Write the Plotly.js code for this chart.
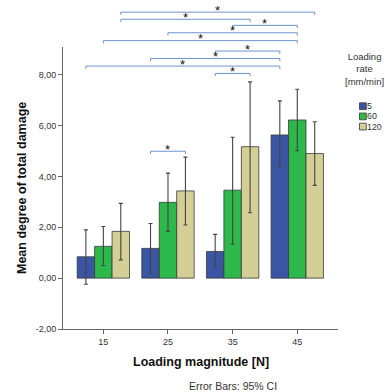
<!DOCTYPE html>
<html>
<head>
<meta charset="utf-8">
<script src="https://cdn.plot.ly/plotly-3.0.1.min.js"></script>
<style>html,body{margin:0;padding:0;background:#fff}#chart{width:385px;height:392px}</style>
</head>
<body>
<div id="chart"></div>
<script>
// ---- data ----
const categories = ['15', '25', '35', '45'];          // loading magnitude [N]
const seriesNames = ['5', '60', '120'];               // loading rate [mm/min]
const mean5   = [0.84, 1.17, 1.05, 5.63];
const mean60  = [1.25, 2.98, 3.46, 6.22];
const mean120 = [1.84, 3.43, 5.17, 4.90];
const ciHigh5   = [1.90, 2.15, 1.72, 6.97];
const ciLow5    = [-0.24, 0.18, 0.42, 4.36];
const ciHigh60  = [2.03, 4.13, 5.54, 7.43];
const ciLow60   = [0.50, 1.84, 1.33, 5.01];
const ciHigh120 = [2.94, 4.76, 7.72, 6.15];
const ciLow120  = [0.72, 2.09, 2.57, 3.65];
const yTickVals = [-2, 0, 2, 4, 6, 8];
const yTickText = ['-2,00', '0,00', '2,00', '4,00', '6,00', '8,00'];
// significance brackets: [group, series] from -> to, and level (y units)
const bracketFrom  = [[0,2],[0,2],[2,1],[1,1],[0,1],[2,0],[1,0],[0,0],[2,0],[1,0]];
const bracketTo    = [[3,2],[2,2],[3,1],[3,1],[3,1],[3,0],[3,0],[3,0],[2,2],[1,2]];
const bracketLevel = [10.46, 10.18, 9.94, 9.65, 9.34, 8.93, 8.64, 8.34, 8.05, 4.99];
const bracketLabel = ['*','*','*','*','*','*','*','*','*','*'];

// ---- styling ----
const colors = ['#3b55a5', '#2db84b', '#d4ce97'];
const FONT = 'Liberation Sans, Arial, sans-serif';
const W = 385, H = 392;
const M = {l: 63, r: 47, t: 5, b: 63};
const plotW = W - M.l - M.r, plotH = H - M.t - M.b;
const px2x = p => (p - M.l) / plotW;
const px2y = p => (H - M.b - p) / plotH;
const bargap = 0.19;
const barW = (1 - bargap) / seriesNames.length;

const means = [mean5, mean60, mean120];
const his = [ciHigh5, ciHigh60, ciHigh120];
const los = [ciLow5, ciLow60, ciLow120];
const xIdx = categories.map((c, i) => i);

const traces = seriesNames.map((name, s) => ({
  type: 'bar', name: name, x: xIdx, y: means[s],
  marker: {color: colors[s], line: {color: '#3a3a3a', width: 0.8}},
  error_y: {
    type: 'data', symmetric: false,
    array: his[s].map((h, i) => h - means[s][i]),
    arrayminus: los[s].map((l, i) => means[s][i] - l),
    color: '#444', thickness: 1.1, width: 2
  },
  showlegend: false, hoverinfo: 'skip'
}));

const barCenter = (g, s) => g + (s - (seriesNames.length - 1) / 2) * barW;
const tick = 0.11;
const annotations = [];
bracketFrom.forEach((f, k) => {
  const x1 = barCenter(f[0], f[1]);
  const x2 = barCenter(bracketTo[k][0], bracketTo[k][1]);
  const L = bracketLevel[k];
  traces.push({
    type: 'scatter', mode: 'lines', xaxis: 'x', yaxis: 'y2',
    x: [x1, x1, x2, x2], y: [L - tick, L, L, L - tick],
    line: {color: '#6f93cf', width: 1}, cliponaxis: false,
    showlegend: false, hoverinfo: 'skip'
  });
  annotations.push({
    xref: 'x', yref: 'y2', x: (x1 + x2) / 2, y: L, yanchor: 'middle', yshift: 2,
    text: bracketLabel[k], showarrow: false, font: {family: FONT, size: 13, color: '#111'}
  });
});

// axis titles & footnote
annotations.push({xref: 'paper', yref: 'paper', x: 0.5, y: px2y(362), xanchor: 'center', yanchor: 'middle',
  text: '<b>Loading magnitude [N]</b>', showarrow: false, font: {family: FONT, size: 12.5, color: '#111'}});
annotations.push({xref: 'paper', yref: 'paper', x: px2x(22), y: px2y(188), xanchor: 'center', yanchor: 'middle',
  textangle: -90, text: '<b>Mean degree of total damage</b>', showarrow: false, font: {family: FONT, size: 12.5, color: '#111'}});
annotations.push({xref: 'paper', yref: 'paper', x: px2x(233), y: px2y(385.5), xanchor: 'center', yanchor: 'middle',
  text: 'Error Bars: 95% CI', showarrow: false, font: {family: FONT, size: 10.5, color: '#333'}});

// legend (drawn manually to match compact SPSS style)
annotations.push({xref: 'paper', yref: 'paper', x: px2x(364), y: px2y(69), xanchor: 'center', yanchor: 'middle',
  text: 'Loading<br>rate<br>[mm/min]', showarrow: false, font: {family: FONT, size: 9.5, color: '#333'}});
const shapes = [];
seriesNames.forEach((name, s) => {
  const cy = 106.2 + s * 10.2;
  shapes.push({type: 'rect', xref: 'paper', yref: 'paper',
    x0: px2x(359.5), x1: px2x(366.3), y0: px2y(cy + 3.4), y1: px2y(cy - 3.4),
    fillcolor: colors[s], line: {color: '#3a3a3a', width: 0.8}});
  annotations.push({xref: 'paper', yref: 'paper', x: px2x(366.5), y: px2y(cy), xanchor: 'left', yanchor: 'middle',
    text: name, showarrow: false, borderpad: 0, font: {family: FONT, size: 8.8, color: '#333'}});
});

const yTopMain = 9.09;
const layout = {
  width: W, height: H, margin: M,
  paper_bgcolor: '#fff', plot_bgcolor: 'rgba(0,0,0,0)',
  barmode: 'group', bargap: bargap, bargroupgap: 0,
  showlegend: false,
  font: {family: FONT, size: 9, color: '#333'},
  xaxis: {
    range: [-0.624, 3.63], tickvals: xIdx, ticktext: categories,
    showline: true, linecolor: '#666', linewidth: 1, ticks: 'outside', ticklen: 4, tickcolor: '#666',
    showgrid: false, zeroline: false, tickfont: {family: FONT, size: 9, color: '#333'}, anchor: 'y'
  },
  yaxis: {
    domain: [0, px2y(47)], range: [-2, yTopMain], tickvals: yTickVals, ticktext: yTickText,
    showline: true, linecolor: '#666', linewidth: 1, ticks: 'outside', ticklen: 4, tickcolor: '#666',
    showgrid: false, zeroline: false, tickfont: {family: FONT, size: 9, color: '#333'}, anchor: 'x'
  },
  yaxis2: {
    domain: [0, 1], range: [-2, -2 + (yTopMain + 2) / px2y(47)], visible: false, anchor: 'x',
    showgrid: false, zeroline: false
  },
  annotations: annotations, shapes: shapes
};

Plotly.newPlot('chart', traces, layout, {staticPlot: true, displayModeBar: false});
</script>
</body>
</html>
